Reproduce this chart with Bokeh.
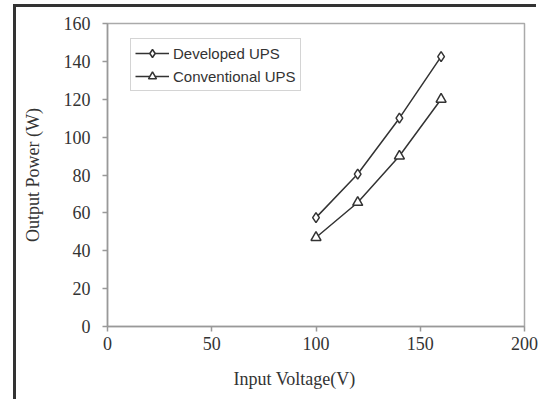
from bokeh.plotting import figure
from bokeh.models import Range1d, FixedTicker, Legend, LegendItem, Title
from bokeh.embed import file_html
from bokeh.resources import INLINE

voltage = [100, 120, 140, 160]
developed = [57.5, 80.5, 110, 142.5]
conventional = [47, 65.5, 90, 120]
x_ticks = [0, 50, 100, 150, 200]
y_ticks = [0, 20, 40, 60, 80, 100, 120, 140, 160]

SERIF = "Liberation Serif"
SANS = "Liberation Sans"

p = figure(width=523, height=395, output_backend="svg", toolbar_location=None,
           x_range=Range1d(0, 200), y_range=Range1d(0, 160),
           min_border_left=91, min_border_right=15, min_border_top=16, min_border_bottom=10)
p.styles = {"box-shadow": "-3px -3px 0 0 #333333",
            "transform": "translate(16px, 7px)"}
p.grid.visible = False
p.background_fill_color = "white"
p.outline_line_color = "#aaaaaa"
p.outline_line_width = 1.5

for ax in (p.xaxis[0], p.yaxis[0]):
    ax.axis_line_color = "#999999"
    ax.axis_line_width = 1.5
    ax.major_tick_line_color = "#999999"
    ax.major_tick_line_width = 1.5
    ax.major_tick_out = 5
    ax.major_tick_in = 0
    ax.minor_tick_line_color = None
    ax.major_label_text_font = SERIF
    ax.major_label_text_font_size = "18px"
    ax.major_label_text_color = "#333333"
    ax.axis_label_text_font = SERIF
    ax.axis_label_text_font_size = "18px"
    ax.axis_label_text_font_style = "normal"
    ax.axis_label_text_color = "#333333"

p.xaxis.ticker = FixedTicker(ticks=x_ticks)
p.yaxis.ticker = FixedTicker(ticks=y_ticks)
p.xaxis.major_label_standoff = 5
p.yaxis.major_label_standoff = 12
p.yaxis.axis_label = "Output Power (W)"
p.yaxis.axis_label_standoff = 18

t = Title(text="Input Voltage(V)", align="left", offset=126, standoff=28,
          text_font=SERIF, text_font_size="18px", text_font_style="normal",
          text_color="#333333")
p.add_layout(t, "below")

l1 = p.line(voltage, developed, line_color="#333333", line_width=1.5)
m1 = p.scatter(voltage, developed, marker="diamond", size=10, line_color="#333333",
               line_width=1.5, fill_color="white")
l2 = p.line(voltage, conventional, line_color="#333333", line_width=1.5)
m2 = p.scatter(voltage, conventional, marker="triangle", size=10, line_color="#333333",
               line_width=1.5, fill_color="white")

legend = Legend(items=[LegendItem(label="Developed UPS", renderers=[l1, m1]),
                       LegendItem(label="Conventional UPS", renderers=[l2, m2])],
                location=(23, 235))
legend.label_text_font = SANS
legend.label_text_font_size = "15px"
legend.label_text_color = "#333333"
legend.glyph_width = 34
legend.glyph_height = 20
legend.label_height = 20
legend.label_standoff = 4
legend.spacing = 3
legend.padding = 4
legend.margin = 0
legend.border_line_color = "#aaaaaa"
legend.border_line_width = 1.5
legend.background_fill_alpha = 1
p.add_layout(legend)

open("out.html", "w").write(file_html(p, INLINE))
